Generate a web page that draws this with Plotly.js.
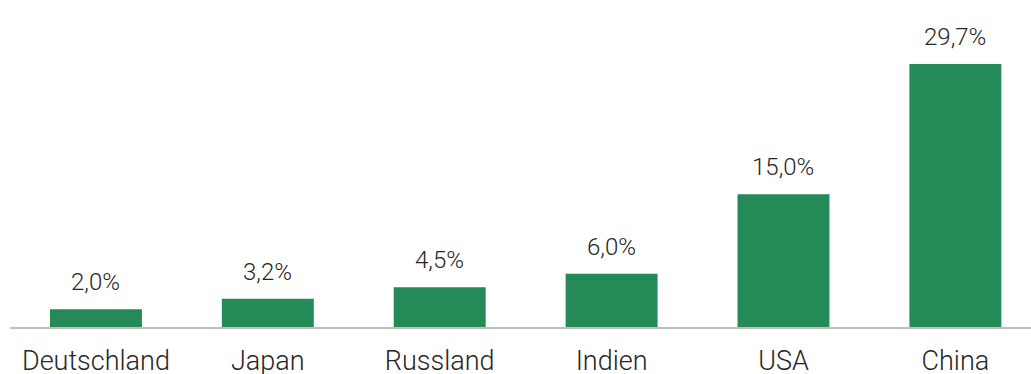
<!DOCTYPE html>
<html>
<head>
<meta charset="utf-8">
<script src="https://cdn.plot.ly/plotly-3.0.1.min.js"></script>
<style>
html,body{margin:0;padding:0;background:#fff;overflow:hidden;}
#chart{width:1031px;height:374px;}
</style>
</head>
<body>
<div id="chart"></div>
<script>
const categories = ["Deutschland", "Japan", "Russland", "Indien", "USA", "China"];
const values = [2.0, 3.2, 4.5, 6.0, 15.0, 29.7];
const valueLabels = ["2,0%", "3,2%", "4,5%", "6,0%", "15,0%", "29,7%"];

const barColor = "#248a57";
const textColor = "#262626";
const fontFamily = "Roboto, 'Noto Sans', sans-serif";

const trace = {
  type: "bar",
  x: categories,
  y: values,
  width: 0.535,
  marker: {color: barColor, line: {width: 0}},
  hoverinfo: "none"
};

const annotations = categories.map((c, i) => ({
  x: c, y: values[i], xref: "x", yref: "y",
  text: valueLabels[i], showarrow: false,
  yanchor: "middle", yshift: 27,
  font: {family: fontFamily, size: 24, color: textColor, weight: 300}
}));

const layout = {
  width: 1031, height: 374,
  margin: {l: 10, r: 0, t: 0, b: 47, pad: 0},
  paper_bgcolor: "#ffffff", plot_bgcolor: "#ffffff",
  showlegend: false,
  xaxis: {
    range: [-0.5, 5.44],
    showgrid: false, zeroline: false,
    showline: true, linecolor: "#bfbfbf", linewidth: 2,
    ticks: "", ticklabelstandoff: 9,
    tickfont: {family: fontFamily, size: 27, color: textColor, weight: 300},
    fixedrange: true
  },
  yaxis: {
    range: [0, 36.93],
    visible: false, showgrid: false, zeroline: false,
    fixedrange: true
  },
  annotations: annotations
};

Plotly.newPlot("chart", [trace], layout, {displayModeBar: false, staticPlot: true});
</script>
</body>
</html>
